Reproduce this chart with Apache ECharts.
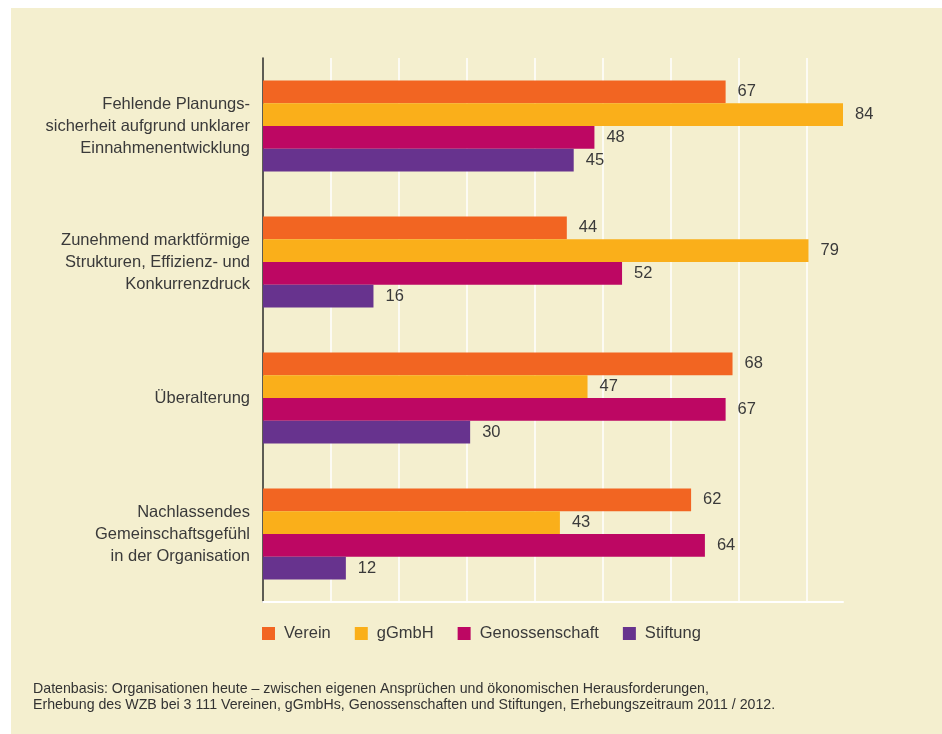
<!DOCTYPE html>
<html>
<head>
<meta charset="utf-8">
<script src="https://cdn.jsdelivr.net/npm/echarts@6/dist/echarts.min.js"></script>
<style>
  html, body { margin: 0; padding: 0; background: #ffffff; }
  #chart { width: 942px; height: 734px; }
</style>
</head>
<body>
<div id="chart"></div>
<script>
// categories, top to bottom
var categories = [
  'Fehlende Planungs-\nsicherheit aufgrund unklarer\nEinnahmenentwicklung',
  'Zunehmend marktförmige\nStrukturen, Effizienz- und\nKonkurrenzdruck',
  'Überalterung',
  'Nachlassendes\nGemeinschaftsgefühl\nin der Organisation'
];

var seriesNames = ['Verein', 'gGmbH', 'Genossenschaft', 'Stiftung'];
var verein = [67, 44, 68, 62];
var ggmbh = [84, 79, 47, 43];
var genossenschaft = [48, 52, 67, 64];
var stiftung = [45, 16, 30, 12];

var colors = ['#f26522', '#faaf1a', '#bd0763', '#67338e'];
var textColor = '#3a3a3a';
var font = '"Liberation Sans", Arial, Helvetica, sans-serif';

var footnote = [
  'Datenbasis: Organisationen heute – zwischen eigenen Ansprüchen und ökonomischen Herausforderungen,',
  'Erhebung des WZB bei 3 111 Vereinen, gGmbHs, Genossenschaften und Stiftungen, Erhebungszeitraum 2011 / 2012.'
];

var chart = echarts.init(document.getElementById('chart'), null, { renderer: 'canvas' });

function makeSeries(name, data, color) {
  return {
    name: name,
    type: 'bar',
    data: data,
    barGap: '0%',
    barCategoryGap: '33%',
    itemStyle: { color: color },
    label: {
      show: true,
      position: 'right',
      distance: 12,
      color: textColor,
      fontSize: 16.5,
      fontFamily: font
    },
    emphasis: { disabled: true }
  };
}

// the source legend gives "Genossenschaft" a little more room
var legendData = seriesNames.map(function (n) {
  return n === 'Genossenschaft'
    ? { name: n, textStyle: { padding: [0, 8, 0, 4] } }
    : { name: n };
});

var option = {
  backgroundColor: '#ffffff',
  animation: false,
  color: colors,
  textStyle: { fontFamily: font },
  grid: { left: 263, top: 58, width: 580, height: 544, containLabel: false },
  legend: {
    data: legendData,
    left: 262,
    top: 625,
    padding: 0,
    itemWidth: 13,
    itemHeight: 13,
    itemGap: 24,
    icon: 'rect',
    textStyle: { color: textColor, fontSize: 16.5, fontFamily: font, padding: [0, 0, 0, 4] }
  },
  xAxis: {
    type: 'value',
    min: 0,
    max: 84,
    // unlabelled gridlines, spaced as in the source graphic
    interval: 9.85,
    axisLabel: { show: false },
    axisTick: { show: false },
    axisLine: { show: true, lineStyle: { color: '#ffffff', width: 2 } },
    splitLine: { show: true, showMinLine: false, showMaxLine: false, lineStyle: { color: '#ffffff', width: 1.5 } }
  },
  yAxis: {
    type: 'category',
    inverse: true,
    data: categories,
    axisTick: { show: false },
    axisLine: { show: true, lineStyle: { color: '#2b2b2b', width: 1.5 } },
    axisLabel: {
      margin: 13,
      color: textColor,
      fontSize: 16.5,
      lineHeight: 22,
      align: 'right',
      fontFamily: font
    }
  },
  graphic: [
    {
      type: 'rect',
      z: -10,
      silent: true,
      shape: { x: 11, y: 8, width: 931, height: 726 },
      style: { fill: '#f4efcf' }
    },
    {
      type: 'text',
      left: 33,
      top: 681,
      silent: true,
      style: {
        text: footnote.join('\n'),
        fill: '#333333',
        fontSize: 14.2,
        lineHeight: 16,
        fontFamily: font
      }
    }
  ],
  series: [
    makeSeries(seriesNames[0], verein, colors[0]),
    makeSeries(seriesNames[1], ggmbh, colors[1]),
    makeSeries(seriesNames[2], genossenschaft, colors[2]),
    makeSeries(seriesNames[3], stiftung, colors[3])
  ]
};

chart.setOption(option);
</script>
</body>
</html>
